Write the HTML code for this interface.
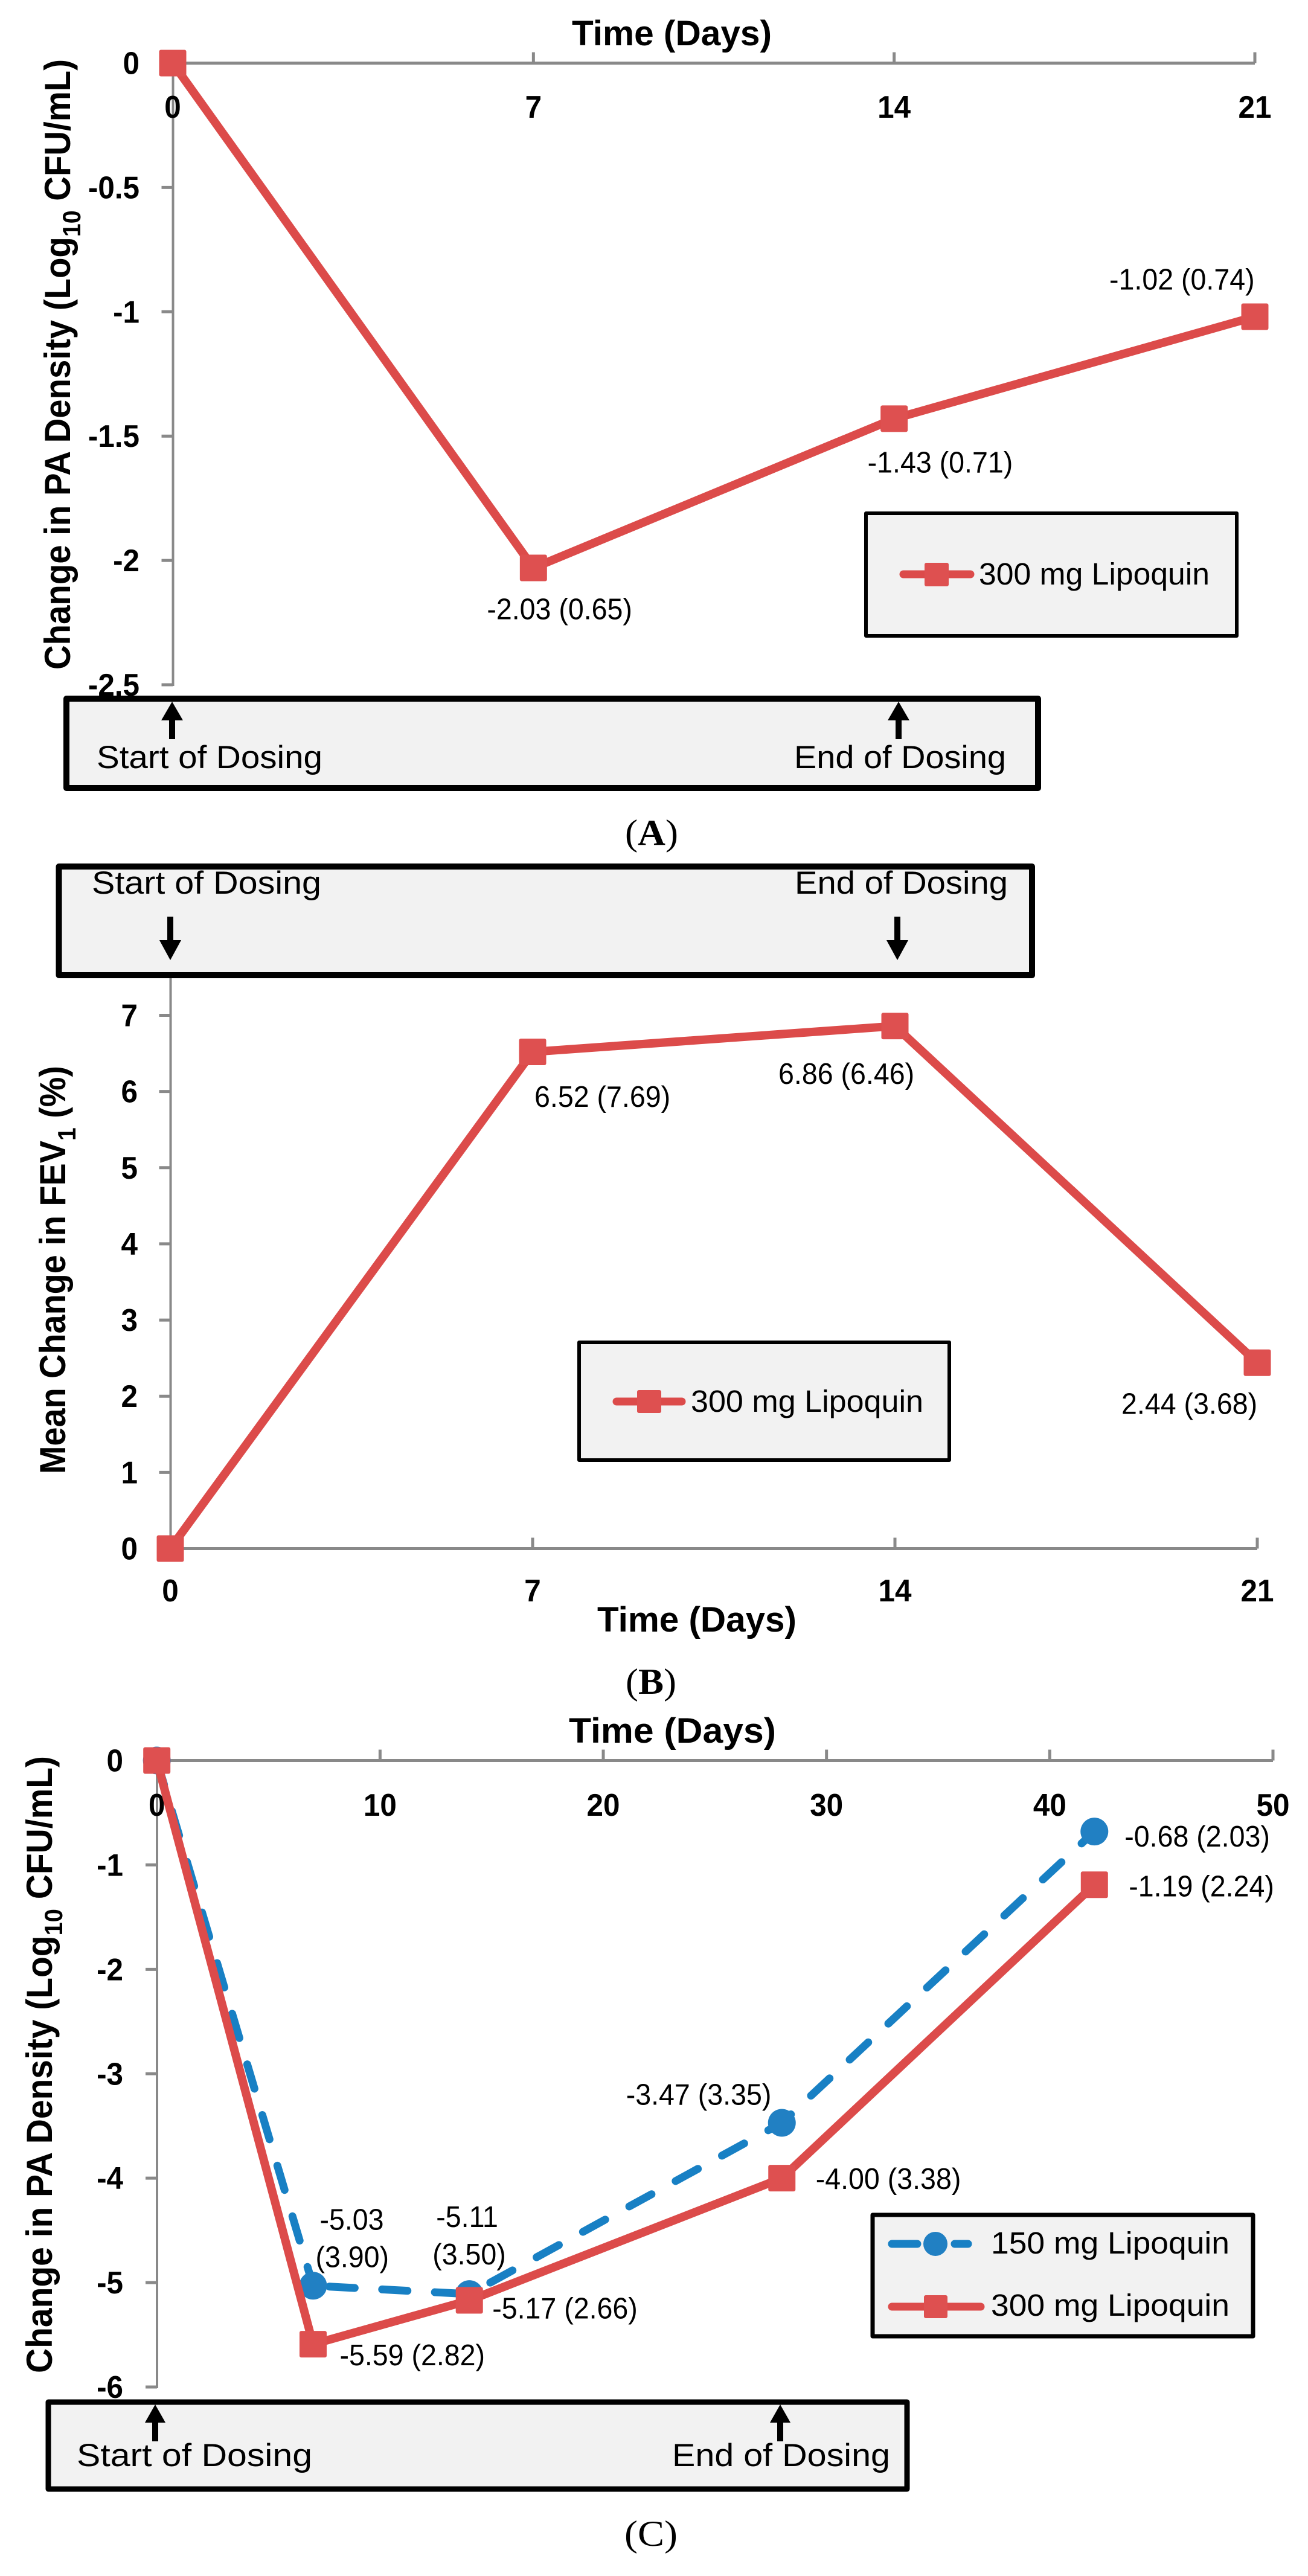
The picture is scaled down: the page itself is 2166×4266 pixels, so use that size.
<!DOCTYPE html>
<html lang="en">
<head>
<meta charset="utf-8">
<title>Lipoquin charts</title>
<style>
html,body{margin:0;padding:0;background:#fff;}
svg{display:block;}
text{font-family:"Liberation Sans",sans-serif;fill:#000;}
.tick{font-size:52px;font-weight:700;}
.title{font-size:58px;font-weight:700;}
.ytitle{font-size:60px;font-weight:700;}
.sub{font-size:42px;}
.pt{font-size:49px;}
.box{font-size:53px;}
.leg{font-size:51px;}
.cap{font-family:"Liberation Serif",serif;font-size:60px;}
</style>
</head>
<body>
<svg id="root" xmlns="http://www.w3.org/2000/svg" width="2166" height="4266" viewBox="0 0 2166 4266">
  <rect width="2166" height="4266" fill="#fff"/>
  <g id="chartA"></g>
  <g id="chartB"></g>
  <g id="chartC"></g>

  <!-- Chart A static -->
  <text class="title" x="947" y="75" textLength="331" lengthAdjust="spacingAndGlyphs">Time (Days)</text>
  <text class="ytitle" transform="translate(116 1109) rotate(-90)" textLength="1011" lengthAdjust="spacingAndGlyphs">Change in PA Density (Log<tspan class="sub" dy="17">10</tspan><tspan dy="-17"> CFU/mL)</tspan></text>
  <rect x="1434" y="850" width="614" height="203" fill="#F2F2F2" stroke="#000" stroke-width="6" stroke-linejoin="round"/>
  <line x1="1496" y1="951" x2="1607" y2="951" stroke="#DC4B4A" stroke-width="13" stroke-linecap="round"/>
  <rect x="1531" y="932" width="40" height="39" rx="3" fill="#DE5050"/>
  <text class="leg" x="1621" y="968" textLength="382" lengthAdjust="spacingAndGlyphs">300 mg Lipoquin</text>
  <rect x="110" y="1157" width="1609" height="148" fill="#F2F2F2" stroke="#000" stroke-width="10" stroke-linejoin="round"/>
  <polygon points="285,1162 303,1193 290,1193 290,1224 280,1224 280,1193 267,1193" fill="#000"/>
  <polygon points="1488,1162 1506,1193 1493,1193 1493,1224 1483,1224 1483,1193 1470,1193" fill="#000"/>
  <text class="box" x="160" y="1272" textLength="374" lengthAdjust="spacingAndGlyphs">Start of Dosing</text>
  <text class="box" x="1315" y="1272" textLength="351" lengthAdjust="spacingAndGlyphs">End of Dosing</text>
  <text class="cap" x="1035" y="1399" textLength="88" lengthAdjust="spacingAndGlyphs">(<tspan font-weight="700">A</tspan>)</text>

  <!-- Chart B static -->
  <rect x="97.5" y="1435" width="1611.5" height="180" fill="#F2F2F2" stroke="#000" stroke-width="10" stroke-linejoin="round"/>
  <polygon points="282,1590 300,1557 287,1557 287,1518 277,1518 277,1557 264,1557" fill="#000"/>
  <polygon points="1486,1590 1504,1557 1491,1557 1491,1518 1481,1518 1481,1557 1468,1557" fill="#000"/>
  <text class="box" x="152" y="1480" textLength="380" lengthAdjust="spacingAndGlyphs">Start of Dosing</text>
  <text class="box" x="1316" y="1480" textLength="353" lengthAdjust="spacingAndGlyphs">End of Dosing</text>
  <text class="title" x="989" y="2702" textLength="330" lengthAdjust="spacingAndGlyphs">Time (Days)</text>
  <text class="ytitle" transform="translate(108 2441) rotate(-90)" textLength="676" lengthAdjust="spacingAndGlyphs">Mean Change in FEV<tspan class="sub" dy="17">1</tspan><tspan dy="-17"> (%)</tspan></text>
  <rect x="959" y="2223" width="613" height="195" fill="#F2F2F2" stroke="#000" stroke-width="6" stroke-linejoin="round"/>
  <line x1="1021" y1="2321" x2="1129" y2="2321" stroke="#DC4B4A" stroke-width="13" stroke-linecap="round"/>
  <rect x="1055" y="2302" width="40" height="38" rx="3" fill="#DE5050"/>
  <text class="leg" x="1144" y="2338" textLength="385" lengthAdjust="spacingAndGlyphs">300 mg Lipoquin</text>
  <text class="cap" x="1036" y="2805" textLength="84" lengthAdjust="spacingAndGlyphs">(<tspan font-weight="700">B</tspan>)</text>

  <!-- Chart C static -->
  <text class="title" x="942" y="2886" textLength="343" lengthAdjust="spacingAndGlyphs">Time (Days)</text>
  <text class="ytitle" transform="translate(86 3930) rotate(-90)" textLength="1022" lengthAdjust="spacingAndGlyphs">Change in PA Density (Log<tspan class="sub" dy="17">10</tspan><tspan dy="-17"> CFU/mL)</tspan></text>
  <rect x="1445" y="3668" width="630" height="201" fill="#F2F2F2" stroke="#000" stroke-width="7" stroke-linejoin="round"/>
  <line x1="1477" y1="3716" x2="1603" y2="3716" stroke="#1880C4" stroke-width="13" stroke-linecap="round" stroke-dasharray="42 62"/>
  <circle cx="1549" cy="3716" r="20" fill="#2180C3"/>
  <text class="leg" x="1641" y="3732" textLength="395" lengthAdjust="spacingAndGlyphs">150 mg Lipoquin</text>
  <line x1="1477" y1="3820" x2="1624" y2="3820" stroke="#DC4B4A" stroke-width="13" stroke-linecap="round"/>
  <rect x="1530" y="3801" width="39" height="38" rx="3" fill="#DE5050"/>
  <text class="leg" x="1641" y="3835" textLength="395" lengthAdjust="spacingAndGlyphs">300 mg Lipoquin</text>
  <rect x="80" y="3978" width="1422" height="144" fill="#F2F2F2" stroke="#000" stroke-width="9" stroke-linejoin="round"/>
  <polygon points="257,3982 274,4012 262,4012 262,4043 252,4043 252,4012 240,4012" fill="#000"/>
  <polygon points="1292,3982 1309,4012 1297,4012 1297,4043 1287,4043 1287,4012 1275,4012" fill="#000"/>
  <text class="box" x="127" y="4084" textLength="390" lengthAdjust="spacingAndGlyphs">Start of Dosing</text>
  <text class="box" x="1113" y="4084" textLength="361" lengthAdjust="spacingAndGlyphs">End of Dosing</text>
  <text class="cap" x="1034" y="4216" textLength="88" lengthAdjust="spacingAndGlyphs">(C)</text>
</svg>
<script>
// ---- Chart data ----
const daysA = [0, 7, 14, 21];
const densityA = [0, -2.03, -1.43, -1.02];
const densityLabelsA = [[], ["-2.03 (0.65)"], ["-1.43 (0.71)"], ["-1.02 (0.74)"]];
const xTicksA = [0, 7, 14, 21];
const yTicksA = [0, -0.5, -1, -1.5, -2, -2.5];

const daysB = [0, 7, 14, 21];
const fevB = [0, 6.52, 6.86, 2.44];
const fevLabelsB = [[], ["6.52 (7.69)"], ["6.86 (6.46)"], ["2.44 (3.68)"]];
const xTicksB = [0, 7, 14, 21];
const yTicksB = [0, 1, 2, 3, 4, 5, 6, 7];

const daysC = [0, 7, 14, 28, 42];
const density150C = [0, -5.03, -5.11, -3.47, -0.68];
const density300C = [0, -5.59, -5.17, -4.00, -1.19];
const labels150C = [[], ["-5.03", "(3.90)"], ["-5.11", "(3.50)"], ["-3.47 (3.35)"], ["-0.68 (2.03)"]];
const labels300C = [[], ["-5.59 (2.82)"], ["-5.17 (2.66)"], ["-4.00 (3.38)"], ["-1.19 (2.24)"]];
const xTicksC = [0, 10, 20, 30, 40, 50];
const yTicksC = [0, -1, -2, -3, -4, -5, -6];

// ---- Layout (pixels, separate from the data) ----
const NS = 'http://www.w3.org/2000/svg';
const AXIS = '#898989', RED = '#DC4B4A', REDFILL = '#DE5050', BLUE = '#1880C4', BLUEFILL = '#2180C3';

function linear(d0, d1, r0, r1) {
  return function (v) { return r0 + (v - d0) / (d1 - d0) * (r1 - r0); };
}
function make(tag, parent) {
  const el = document.createElementNS(NS, tag);
  parent.appendChild(el);
  return el;
}
function setAll(el, props) {
  for (const k in props) el.setAttribute(k, props[k]);
}
function addText(parent, cls, str, x, y, anchor, squeeze) {
  const el = make('text', parent);
  el.setAttribute('class', cls);
  setAll(el, { x: x, y: y, 'text-anchor': anchor });
  el.textContent = str;
  const len = el.getComputedTextLength();
  if (len > 0) {
    el.setAttribute('textLength', (len * squeeze).toFixed(1));
    el.setAttribute('lengthAdjust', 'spacingAndGlyphs');
  }
  return el;
}

function drawAxes(g, prefix, sx, sy, xTicks, yTicks, opts) {
  const hAxis = make('line', g);
  setAll(hAxis, { x1: sx(xTicks[0]), x2: sx(xTicks[xTicks.length - 1]), y1: opts.xAxisY, y2: opts.xAxisY, stroke: AXIS, 'stroke-width': 5 });
  
  

  const vAxis = make('line', g);
  setAll(vAxis, { x1: opts.yAxisX, x2: opts.yAxisX, y1: opts.yAxisTop, y2: opts.yAxisBottom, stroke: AXIS, 'stroke-width': 4 });
  
  

  xTicks.forEach(function (t) {
    const tick = make('line', g);
    setAll(tick, { x1: sx(t), x2: sx(t), y1: opts.xAxisY, y2: opts.xAxisY - 18, stroke: AXIS, 'stroke-width': 5 });
    
    
    const lab = addText(g, 'tick', String(t), sx(t), opts.xLabelY, 'middle', 0.95);
    
    
  });
  yTicks.forEach(function (t) {
    const tick = make('line', g);
    setAll(tick, { x1: opts.yAxisX - 19, x2: opts.yAxisX, y1: sy(t), y2: sy(t), stroke: AXIS, 'stroke-width': 5 });
    
    
    const lab = addText(g, 'tick', String(t), opts.yLabelX, sy(t) + 18, 'end', 0.95);
    
    
  });
}

function drawSeries(g, name, sx, sy, xs, ys, style) {
  if (style.dash) {
    // Dashed series: each segment keeps its own dash phase, as in the source chart.
    for (let i = 0; i + 1 < xs.length; i++) {
      const seg = make('line', g);
      setAll(seg, { x1: sx(xs[i]), y1: sy(ys[i]), x2: sx(xs[i + 1]), y2: sy(ys[i + 1]), stroke: style.color, 'stroke-width': 13, 'stroke-linecap': 'round', 'stroke-dasharray': style.dash, 'stroke-dashoffset': style.dashPhase[i] });
      
      
    }
  } else {
    const pts = xs.map(function (x, i) { return sx(x).toFixed(1) + ',' + sy(ys[i]).toFixed(1); }).join(' ');
    const line = make('polyline', g);
    setAll(line, { points: pts, fill: 'none', stroke: style.color, 'stroke-width': 14, 'stroke-linejoin': 'round' });
    
    
  }
  xs.forEach(function (x, i) {
    const cx = sx(x), cy = sy(ys[i]);
    let m;
    if (style.circle) {
      m = make('circle', g);
      setAll(m, { cx: cx, cy: cy, r: 23, fill: style.fill });
    } else {
      m = make('rect', g);
      setAll(m, { x: cx - 22.5, y: cy - 22, width: 45, height: 44, rx: 3, fill: style.fill });
    }
    
    
  });
}

function drawLabels(g, name, sx, sy, xs, ys, labels, offsets) {
  labels.forEach(function (lines, i) {
    lines.forEach(function (str, j) {
      const off = offsets[i][j];
      const t = addText(g, 'pt', str, sx(xs[i]) + off[0], sy(ys[i]) + off[1], 'start', 0.95);
      
      
    });
  });
}

// Chart A
(function () {
  const g = document.getElementById('chartA');
  const sx = linear(0, 21, 286, 2078);
  const sy = linear(0, -2.5, 104.5, 1134);
  drawAxes(g, 'a', sx, sy, xTicksA, yTicksA, { xAxisY: 104.5, yAxisX: 286.5, yAxisTop: 104.5, yAxisBottom: 1136, xLabelY: 195, yLabelX: 231 });
  drawSeries(g, 'a-300mg', sx, sy, daysA, densityA, { color: RED, fill: REDFILL });
  drawLabels(g, 'a-300mg', sx, sy, daysA, densityA, densityLabelsA,
    [[], [[-77, 85]], [[-44, 89]], [[-241, -45]]]);
})();

// Chart B
(function () {
  const g = document.getElementById('chartB');
  const sx = linear(0, 21, 282, 2082);
  const sy = linear(0, 7, 2564.5, 1681.5);
  drawAxes(g, 'b', sx, sy, xTicksB, yTicksB, { xAxisY: 2564.5, yAxisX: 282.5, yAxisTop: 1600, yAxisBottom: 2564.5, xLabelY: 2652, yLabelX: 228 });
  drawSeries(g, 'b-300mg', sx, sy, daysB, fevB, { color: RED, fill: REDFILL });
  drawLabels(g, 'b-300mg', sx, sy, daysB, fevB, fevLabelsB,
    [[], [[3, 91]], [[-193, 96]], [[-225, 85]]]);
})();

// Chart C
(function () {
  const g = document.getElementById('chartC');
  const sx = linear(0, 50, 259.7, 2108);
  const sy = linear(0, -6, 2915.5, 3953);
  drawAxes(g, 'c', sx, sy, xTicksC, yTicksC, { xAxisY: 2915.5, yAxisX: 260, yAxisTop: 2915.5, yAxisBottom: 3955, xLabelY: 3007, yLabelX: 204 });
  drawSeries(g, 'c-150mg', sx, sy, daysC, density150C, { color: BLUE, fill: BLUEFILL, dash: '42 45.5', dashPhase: [0, -27, 48, 21.5], circle: true });
  drawSeries(g, 'c-300mg', sx, sy, daysC, density300C, { color: RED, fill: REDFILL });
  drawLabels(g, 'c-150mg', sx, sy, daysC, density150C, labels150C,
    [[], [[11, -93], [4, -31]], [[-55, -111], [-61, -49]], [[-258, -30]], [[50, 25]]]);
  drawLabels(g, 'c-300mg', sx, sy, daysC, density300C, labels300C,
    [[], [[44, 35]], [[38, 30]], [[56, 18]], [[57, 19]]]);
})();
</script>
</body>
</html>
